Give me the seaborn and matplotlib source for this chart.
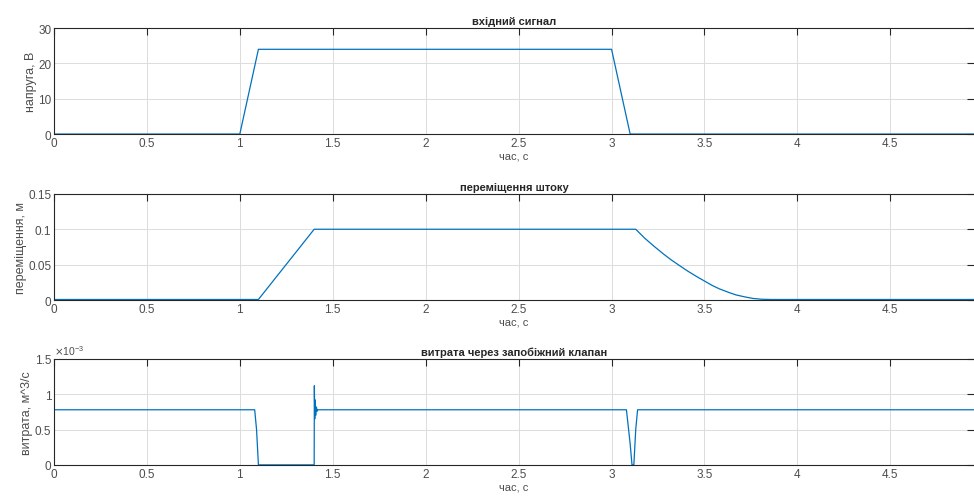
import numpy as np
import pandas as pd
import seaborn as sns
import matplotlib.pyplot as plt
from matplotlib.ticker import ScalarFormatter

# input signal (voltage)
t_in = [0.0, 1.0, 1.1, 3.0, 3.1, 4.95]
u_in = [0.0, 0.0, 24.0, 24.0, 0.0, 0.0]

# rod displacement
t_x = [0.0, 1.1, 1.4, 3.13, 3.18, 3.23, 3.28, 3.32, 3.37, 3.41, 3.46, 3.5, 3.54, 3.58,
       3.63, 3.67, 3.72, 3.76, 3.81, 3.86, 4.95]
x_rod = [0.001, 0.001, 0.1, 0.1, 0.087, 0.0757, 0.065, 0.057, 0.048, 0.041, 0.033, 0.027,
         0.021, 0.016, 0.011, 0.0074, 0.0045, 0.0025, 0.0013, 0.001, 0.001]

# relief valve flow (m^3/s)
t_q = [0.0, 1.08, 1.09, 1.10, 1.40, 1.400, 1.401, 1.403, 1.405, 1.408, 1.412, 1.416, 1.42,
       3.08, 3.10, 3.11, 3.12, 3.13, 3.14, 4.95]
q_valve = [0.78e-3, 0.78e-3, 0.5e-3, 0.0, 0.0, 0.0, 1.12e-3, 0.65e-3, 0.92e-3, 0.7e-3, 0.82e-3,
           0.76e-3, 0.78e-3, 0.78e-3, 0.3e-3, 0.0, 0.0, 0.5e-3, 0.78e-3, 0.78e-3]

titles = ["вхідний сигнал", "переміщення штоку", "витрата через запобіжний клапан"]
ylabels = ["напруга, В", "переміщення, м", "витрата, м^3/с"]
xlabel = "час, с"


class GFormatter(ScalarFormatter):
    # keep MATLAB-like "1" instead of "1.0"
    def _set_format(self):
        self.format = "%g"


sns.set_style("white")
plt.rcParams["font.family"] = ["Liberation Sans", "DejaVu Sans"]
plt.rcParams["font.size"] = 8

line_color = "#0072BD"
txt_color = "#262626"
lbl_color = "#4d4d4d"

fig = plt.figure(figsize=(9.74, 5.02), dpi=100)
positions = [
    [0.0554, 0.731, 0.9446, 0.211],
    [0.0554, 0.400, 0.9446, 0.212],
    [0.0554, 0.072, 0.9446, 0.211],
]
datasets = [
    pd.DataFrame({"t": t_in, "v": u_in}),
    pd.DataFrame({"t": t_x, "v": x_rod}),
    pd.DataFrame({"t": t_q, "v": q_valve}),
]
ylims = [(0, 30), (0, 0.15), (0, 1.5e-3)]
yticks = [[0, 10, 20, 30], [0, 0.05, 0.1, 0.15], [0, 0.5e-3, 1e-3, 1.5e-3]]

for i in range(3):
    ax = fig.add_axes(positions[i])
    sns.lineplot(data=datasets[i], x="t", y="v", ax=ax, color=line_color,
                 linewidth=0.9, estimator=None, sort=False)
    ax.set_xlim(0, 4.95)
    ax.set_ylim(*ylims[i])
    ax.set_xticks([0, 0.5, 1, 1.5, 2, 2.5, 3, 3.5, 4, 4.5])
    ax.set_xticklabels(["0", "0.5", "1", "1.5", "2", "2.5", "3", "3.5", "4", "4.5"])
    ax.set_yticks(yticks[i])
    if i == 2:
        fmt = GFormatter(useMathText=True)
        fmt.set_powerlimits((-2, 2))
        ax.yaxis.set_major_formatter(fmt)
        ax.yaxis.get_offset_text().set_fontsize(7.5)
        ax.yaxis.get_offset_text().set_color(lbl_color)
    elif i == 1:
        ax.set_yticklabels(["0", "0.05", "0.1", "0.15"])
    ax.grid(True, color="#dcdcdc", linewidth=0.7)
    ax.tick_params(direction="in", top=True, right=True, length=5, width=0.8,
                   colors=txt_color, labelcolor=lbl_color, labelsize=8.5, pad=2)
    for sp in ax.spines.values():
        sp.set_color(txt_color)
        sp.set_linewidth(0.8)
    ax.spines["right"].set_visible(False)
    ax.set_title(titles[i], fontsize=8, fontweight="bold", pad=3)
    ax.set_xlabel(xlabel, fontsize=8, color=lbl_color, labelpad=1)
    ax.set_ylabel(ylabels[i], fontsize=9, color=lbl_color, labelpad=1)

fig.savefig("out.png", dpi=100)
